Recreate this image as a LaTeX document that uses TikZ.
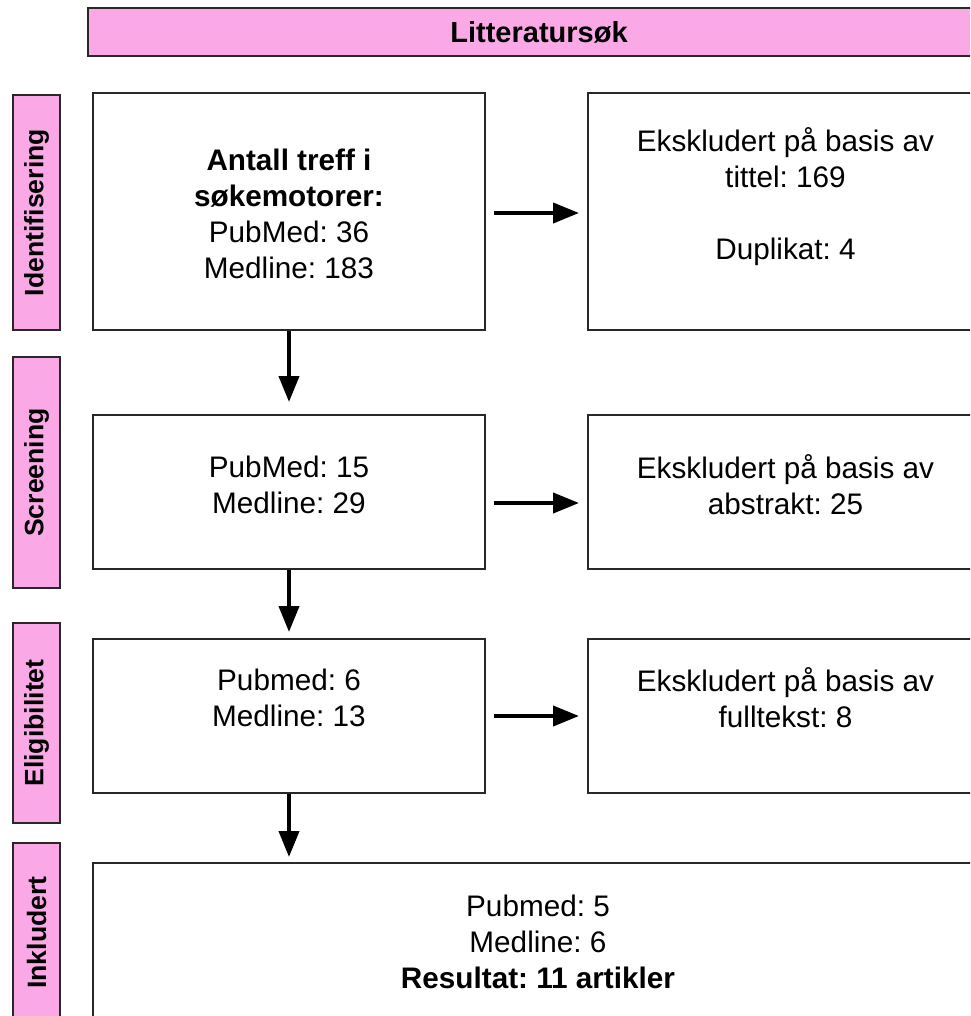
\documentclass[tikz,border=0pt]{standalone}
\usepackage{fontspec}
\setmainfont{Liberation Sans}
\usetikzlibrary{arrows.meta}
\definecolor{pinkfill}{RGB}{250,168,230}
\definecolor{edge}{RGB}{40,40,40}
\frenchspacing
\begin{document}
\frenchspacing
\begin{tikzpicture}[x=1pt,y=-1pt,
  phase/.style={draw=edge,line width=2pt,fill=pinkfill,inner sep=0pt,rotate=90,
    minimum height=47pt,font=\bfseries\fontsize{26.6}{32}\selectfont},
  box/.style={draw=edge,line width=2pt,fill=white,inner sep=0pt},
  body/.style={font=\fontsize{29.7}{36}\selectfont\frenchspacing,align=center,inner sep=0pt},
  flow/.style={line width=4pt,-{Triangle[length=26pt,width=20pt]}}
]
\useasboundingbox (0,0) rectangle (970,1016);
\clip (0,0) rectangle (970,1016);
\fill[white] (0,0) rectangle (970,1016);

% banner
\node[box,fill=pinkfill,minimum width=902pt,minimum height=48pt,
  font=\bfseries\fontsize{29}{34}\selectfont] (top) at (539,32) {Litteratursøk};

% phase labels
\node[phase,minimum width=235pt] (p1) at (36.5,212.5) {Identifisering};
\node[phase,minimum width=231pt] (p2) at (36.5,472.5) {Screening};
\node[phase,minimum width=200pt] (p3) at (36.5,723) {Eligibilitet};
\node[phase,minimum width=179pt] (p4) at (36.5,932.5) {Inkludert};

% main boxes
\node[box,minimum width=392pt,minimum height=237pt] (b1) at (289,211.5) {};
\node[box,minimum width=392pt,minimum height=154pt] (b2) at (289,492) {};
\node[box,minimum width=392pt,minimum height=154pt] (b3) at (289,716) {};
\node[box,minimum width=890pt,minimum height=158pt] (b4) at (538,942) {};

% right boxes
\node[box,minimum width=395pt,minimum height=237pt] (r1) at (785.5,211.5) {};
\node[box,minimum width=395pt,minimum height=154pt] (r2) at (785.5,492) {};
\node[box,minimum width=395pt,minimum height=154pt] (r3) at (785.5,716) {};

% texts
\node[body] (t1) at (289,214) {\textbf{Antall treff i}\\\textbf{søkemotorer:}\\PubMed: 36\\Medline: 183};
\node[body] (t2) at (289,485) {PubMed: 15\\Medline: 29};
\node[body] (t3) at (289,698) {Pubmed: 6\\Medline: 13};
\node[body] (t4) at (538,942) {Pubmed: 5\\Medline: 6\\\textbf{Resultat: 11 artikler}};
\node[body] (s1) at (785.5,197) {Ekskludert på basis av\\tittel: 169\\[36pt]Duplikat: 4};
\node[body] (s2) at (785.5,485) {Ekskludert på basis av\\abstrakt: 25};
\node[body] (s3) at (785.5,698) {Ekskludert på basis av\\fulltekst: 8};

% connectors
\coordinate (d1) at (289,402);
\coordinate (d2) at (289,632);
\coordinate (d3) at (289,857);
\draw[flow] (b1.south) -- (d1);
\draw[flow] (b2.south) -- (d2);
\draw[flow] (b3.south) -- (d3);
\draw[flow] ([xshift=8pt,yshift=-1.5pt]b1.east) -- ([xshift=-8pt,yshift=-1.5pt]r1.west);
\draw[flow] ([xshift=8pt,yshift=-11pt]b2.east) -- ([xshift=-8pt,yshift=-11pt]r2.west);
\draw[flow] ([xshift=8pt]b3.east) -- ([xshift=-8pt]r3.west);
\end{tikzpicture}
\end{document}
